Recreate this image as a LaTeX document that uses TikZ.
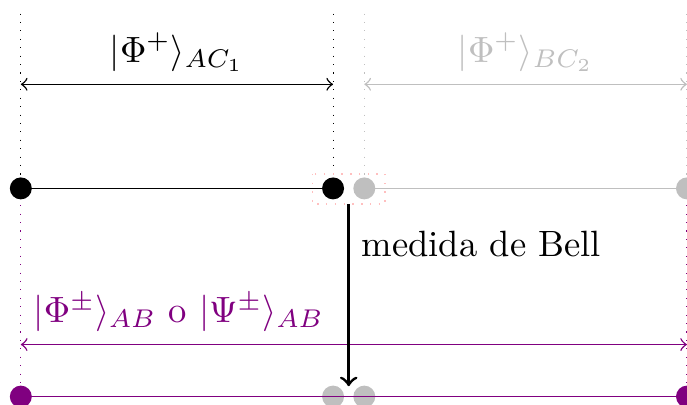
\documentclass[tikz,border=0pt]{standalone}
\usetikzlibrary{calc}
\begin{document}
\begin{tikzpicture}[
  dot/.style={circle,fill=#1,inner sep=0pt,minimum size=6pt},
  vdots/.style={dotted,line width=0.3pt,#1},
  spanarrow/.style={<->,#1},
]
\useasboundingbox (-0.2,-2.08) rectangle (6.4,1.81);
% top coordinates of the dotted guides
\coordinate (tA) at (0,1.68);
\coordinate (tC1) at (3,1.68);
\coordinate (tC2) at (3.3,1.68);
\coordinate (tB) at (6.4,1.68);
% arrow ends
\coordinate (aL) at (0,1);
\coordinate (aM) at (3,1);
\coordinate (aN) at (3.3,1);
\coordinate (aR) at (6.4,1);
\coordinate (pL) at (0,-1.5);
\coordinate (pR) at (6.4,-1.5);
\coordinate (mTop) at (3.15,-0.15);
\coordinate (mBot) at (3.15,-1.9);
% positions of the qubits
\coordinate (A) at (0,0);
\coordinate (C1) at (3,0);
\coordinate (C2) at (3.3,0);
\coordinate (B) at (6.4,0);
\coordinate (A2) at (0,-2);
\coordinate (C12) at (3,-2);
\coordinate (C22) at (3.3,-2);
\coordinate (B2) at (6.4,-2);
% dotted guides
\draw[vdots=black] (tA) -- (A);
\draw[vdots=black] (tC1) -- (C1);
\draw[vdots=lightgray] (tC2) -- (C2);
\draw[vdots=lightgray] (tB) -- (B);
\draw[vdots=violet] (A) -- (A2);
\draw[vdots=violet] (B) -- (B2);
% span arrows
\draw[spanarrow=black] (aL) -- node[above] {$|\Phi^+\rangle_{AC_1}$} (aM);
\draw[spanarrow=lightgray] (aN) -- node[above,text=lightgray] {$|\Phi^+\rangle_{BC_2}$} (aR);
\draw[spanarrow=violet] (pL) -- (pR);
\node[anchor=south west,text=violet] (plabel) at (pL) {$|\Phi^\pm\rangle_{AB}$ o $|\Psi^\pm\rangle_{AB}$};
% top row
\draw (A) -- (C1);
\draw[lightgray] (C2) -- (B);
\node[dot=black] (nA) at (A) {};
\node[dot=black] (nC1) at (C1) {};
\node[dot=lightgray] (nC2) at (C2) {};
\node[dot=lightgray] (nB) at (B) {};
\draw[pink,dotted] ($(C1)+(-0.2,0.14)$) rectangle ($(C2)+(0.2,-0.15)$);
% bottom row
\node[dot=lightgray] (nC12) at (C12) {};
\node[dot=lightgray] (nC22) at (C22) {};
\draw[violet] (A2) -- (B2);
\node[dot=violet] (nA2) at (A2) {};
\node[dot=violet] (nB2) at (B2) {};
% Bell measurement
\draw[thick,->] (mTop) -- (mBot);
\node[anchor=west] (bell) at (3.15,-0.53) {medida de Bell};
\end{tikzpicture}
\end{document}
